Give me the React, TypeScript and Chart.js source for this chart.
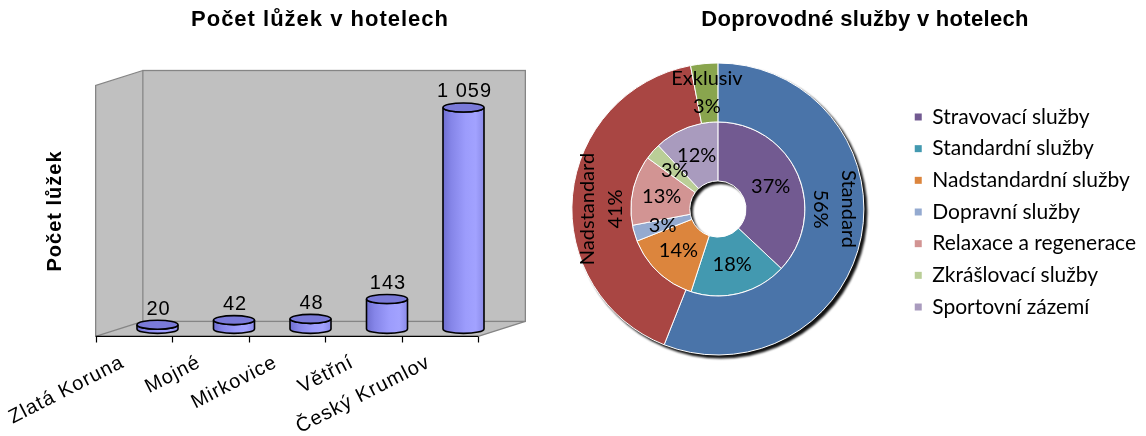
import React, { useEffect, useRef } from 'react';
import { Chart, registerables } from 'chart.js';

Chart.register(...registerables);

// ---------------- data ----------------
const bedTitle = 'Počet lůžek v hotelech';
const bedAxisTitle = 'Počet lůžek';
const bedCategories = ['Zlatá Koruna', 'Mojné', 'Mirkovice', 'Větřní', 'Český Krumlov'];
const bedCounts = [20, 42, 48, 143, 1059];
const bedAxisMax = 1200;

const serviceTitle = 'Doprovodné služby v hotelech';
const classLabels = ['Standard', 'Nadstandard', 'Exklusiv'];
const classShares = [56, 41, 3];
const serviceLabels = [
  'Stravovací služby',
  'Standardní služby',
  'Nadstandardní služby',
  'Dopravní služby',
  'Relaxace a regenerace',
  'Zkrášlovací služby',
  'Sportovní zázemí',
];
const serviceShares = [37, 18, 14, 3, 13, 3, 12];

// ---------------- style ----------------
const classColors = ['#4A74A9', '#A94643', '#89A54E'];
const serviceColors = ['#725A91', '#4399B0', '#DC853D', '#94AAD0', '#D29493', '#BACE97', '#A99BBE'];
const ARIAL = "'Liberation Sans', Arial, sans-serif";
const CALIBRI = "Lato, 'Open Sans', sans-serif";

const fmtCount = (v: number) =>
  v >= 1000 ? Math.floor(v / 1000) + ' ' + String(v % 1000).padStart(3, '0') : String(v);

// half of the 3D depth offset (mid plane -> back plane)
const DX = 23.6;
const DY = 7.5;

const frame3d = {
  id: 'frame3d',
  beforeDatasetsDraw(chart: any) {
    const { ctx, chartArea: a } = chart;
    const fL = a.left - DX, fR = a.right - DX, fT = a.top + DY, fB = a.bottom + DY;
    const bL = a.left + DX, bR = a.right + DX, bT = a.top - DY, bB = a.bottom - DY;
    ctx.save();
    ctx.fillStyle = '#C0C0C0';
    ctx.fillRect(bL, bT, bR - bL, bB - bT);
    ctx.beginPath();
    ctx.moveTo(fL, fT); ctx.lineTo(bL, bT); ctx.lineTo(bL, bB); ctx.lineTo(fL, fB); ctx.closePath();
    ctx.fill();
    ctx.beginPath();
    ctx.moveTo(fL, fB); ctx.lineTo(bL, bB); ctx.lineTo(bR, bB); ctx.lineTo(fR, fB); ctx.closePath();
    ctx.fill();
    ctx.strokeStyle = '#858585';
    ctx.lineWidth = 1.3;
    ctx.strokeRect(bL, bT, bR - bL, bB - bT);
    ctx.beginPath();
    ctx.moveTo(fL, fB); ctx.lineTo(fL, fT); ctx.lineTo(bL, bT);
    ctx.moveTo(fL, fB); ctx.lineTo(bL, bB);
    ctx.moveTo(fR, fB); ctx.lineTo(bR, bB);
    ctx.stroke();
    // front axis line + tick marks
    ctx.strokeStyle = '#000';
    ctx.lineWidth = 1.2;
    ctx.beginPath();
    ctx.moveTo(fL, fB); ctx.lineTo(fR, fB);
    const n = bedCategories.length;
    const step = a.width / n;
    for (let i = 0; i <= n; i++) {
      const x = Math.round(a.left + i * step - DX) + 0.5;
      ctx.moveTo(x, fB); ctx.lineTo(x, fB + 6);
    }
    ctx.stroke();
    ctx.restore();
  },
  afterDatasetsDraw(chart: any) {
    const { ctx } = chart;
    const meta = chart.getDatasetMeta(0);
    ctx.save();
    meta.data.forEach((el: any, i: number) => {
      const { x, y, base, width } = el.getProps(['x', 'y', 'base', 'width'], true);
      const rx = width / 2;
      const ry = 4.5;
      const l = x - rx, r = x + rx;
      const g = ctx.createLinearGradient(l, 0, r, 0);
      g.addColorStop(0, '#6F6FD0');
      g.addColorStop(0.2, '#8585E8');
      g.addColorStop(0.55, '#9C9CFC');
      g.addColorStop(0.8, '#A2A2FF');
      g.addColorStop(1, '#8A8AE8');
      ctx.lineWidth = 1.6;
      ctx.strokeStyle = '#000';
      ctx.fillStyle = g;
      ctx.beginPath();
      ctx.moveTo(l, y);
      ctx.lineTo(l, base);
      ctx.ellipse(x, base, rx, ry, 0, Math.PI, 0, true);
      ctx.lineTo(r, y);
      ctx.ellipse(x, y, rx, ry, 0, 0, Math.PI, false);
      ctx.closePath();
      ctx.fill();
      ctx.stroke();
      ctx.beginPath();
      ctx.ellipse(x, y, rx, ry, 0, 0, Math.PI * 2);
      ctx.fillStyle = '#7A7AD8';
      ctx.fill();
      ctx.stroke();
      // value label
      ctx.font = `20px ${ARIAL}`;
      ctx.letterSpacing = '1px';
      ctx.fillStyle = '#000';
      ctx.textAlign = 'center';
      ctx.textBaseline = 'alphabetic';
      ctx.fillText(fmtCount(bedCounts[i]), x + 1, y - 10);
    });
    ctx.restore();
  },
  afterDraw(chart: any) {
    const { ctx, chartArea: a, scales } = chart;
    const xs = scales.x;
    ctx.save();
    ctx.fillStyle = '#000';
    ctx.letterSpacing = '1px';
    // chart title
    ctx.font = `bold 22px ${ARIAL}`;
    ctx.textAlign = 'center';
    ctx.textBaseline = 'middle';
    ctx.fillText(bedTitle, 320, 20);
    // category labels
    ctx.font = `20px ${ARIAL}`;
    ctx.textAlign = 'right';
    ctx.textBaseline = 'middle';
    bedCategories.forEach((lab, i) => {
      const x = xs.getPixelForValue(i) - DX - 11;
      const y = a.bottom + DY + 25;
      ctx.save();
      ctx.translate(x, y);
      ctx.rotate((-27 * Math.PI) / 180);
      ctx.fillText(lab, 0, 0);
      ctx.restore();
    });
    // y axis title
    ctx.font = `bold 20px ${ARIAL}`;
    ctx.textAlign = 'center';
    ctx.save();
    ctx.translate(a.left - DX - 40, (a.top + a.bottom) / 2 + DY);
    ctx.rotate(-Math.PI / 2);
    ctx.fillText(bedAxisTitle, 0, 0);
    ctx.restore();
    ctx.restore();
  },
};

function BedsChart() {
  const ref = useRef<HTMLCanvasElement>(null);
  useEffect(() => {
    if (!ref.current) return;
    const chart = new Chart(ref.current, {
      type: 'bar',
      data: {
        labels: bedCategories,
        datasets: [
          {
            label: bedAxisTitle,
            data: bedCounts,
            backgroundColor: '#9999FF',
            borderWidth: 0,
            barPercentage: 0.536,
            categoryPercentage: 1,
          },
        ],
      },
      options: {
        responsive: false,
        animation: false,
        events: [],
        layout: { padding: { left: 119.25, right: 138.25, top: 78, bottom: 107.1 } },
        scales: {
          x: { display: false },
          y: { display: false, min: 0, max: bedAxisMax },
        },
        plugins: {
          legend: { display: false },
          tooltip: { enabled: false },
          title: { display: false },
        },
      } as any,
      plugins: [frame3d],
    });
    return () => chart.destroy();
  }, []);
  return (
    <canvas ref={ref} width={640} height={436} style={{ position: 'absolute', left: 0, top: 0 }} />
  );
}

const ringPlugin = {
  id: 'ringDecor',
  beforeDatasetsDraw(chart: any) {
    const { ctx } = chart;
    const outer = chart.getDatasetMeta(0).data[0];
    const inner = chart.getDatasetMeta(1).data[0];
    if (!outer || !inner) return;
    const x = outer.x + 3, y = outer.y + 3;
    ctx.save();
    ctx.filter = 'blur(0.8px)';
    ctx.fillStyle = '#111';
    ctx.beginPath();
    ctx.arc(x, y, outer.outerRadius + 0.5, 0, Math.PI * 2);
    ctx.moveTo(x + inner.innerRadius, y);
    ctx.arc(x, y, inner.innerRadius, 0, Math.PI * 2, true);
    ctx.fill('evenodd');
    ctx.restore();
  },
  afterDatasetsDraw(chart: any) {
    const { ctx } = chart;
    ctx.save();
    ctx.fillStyle = '#000';
    ctx.font = `20px ${CALIBRI}`;
    ctx.textAlign = 'center';
    ctx.textBaseline = 'middle';
    // inner ring: percentages
    chart.getDatasetMeta(1).data.forEach((el: any, i: number) => {
      const mid = (el.startAngle + el.endAngle) / 2;
      const r = (el.innerRadius + el.outerRadius) / 2;
      ctx.fillText(serviceShares[i] + '%', el.x + r * Math.cos(mid), el.y + r * Math.sin(mid));
    });
    // outer ring: name + percentage, oriented along the ring
    chart.getDatasetMeta(0).data.forEach((el: any, i: number) => {
      const span = el.endAngle - el.startAngle;
      let a = (el.startAngle + el.endAngle) / 2 + Math.PI / 2;
      a = ((a % (2 * Math.PI)) + 2 * Math.PI) % (2 * Math.PI);
      const rot = Math.round(a / (Math.PI / 2)) * (Math.PI / 2);
      const pa = span > Math.PI / 2 ? rot : a;
      const r = (el.innerRadius + el.outerRadius) / 2;
      const px = el.x + r * Math.sin(pa);
      const py = el.y - r * Math.cos(pa);
      ctx.save();
      ctx.translate(px, py);
      ctx.rotate(rot);
      ctx.fillText(classLabels[i], 0, -14);
      ctx.fillText(classShares[i] + '%', 0, 14);
      ctx.restore();
    });
    ctx.restore();
  },
  afterDraw(chart: any) {
    const { ctx } = chart;
    ctx.save();
    ctx.fillStyle = '#000';
    ctx.font = `bold 22px ${ARIAL}`;
    ctx.letterSpacing = '0.3px';
    ctx.textAlign = 'center';
    ctx.textBaseline = 'middle';
    ctx.fillText(serviceTitle, 345, 20);
    ctx.restore();
  },
};

const LEGEND_FONT = 21;
const LEGEND_PAD = 10.67;
const RIGHT_W = 626;
const LEGEND_LEFT = 384.3; // canvas x where the legend box starts

function ServicesChart() {
  const ref = useRef<HTMLCanvasElement>(null);
  useEffect(() => {
    if (!ref.current) return;
    const m = document.createElement('canvas').getContext('2d') as CanvasRenderingContext2D;
    m.font = `${LEGEND_FONT}px ${CALIBRI}`;
    const tw = Math.max(...serviceLabels.map((t) => m.measureText(t).width));
    const legendW = LEGEND_PAD + 7 + LEGEND_FONT / 2 + tw + 10;
    const padR = Math.max(0, RIGHT_W - LEGEND_LEFT - legendW);
    const chart = new Chart(ref.current, {
      type: 'doughnut',
      data: {
        labels: serviceLabels,
        datasets: [
          {
            label: 'Kategorie',
            data: classShares,
            backgroundColor: classColors,
            borderColor: '#ffffff',
            borderWidth: 1,
          },
          {
            label: 'Služby',
            data: serviceShares,
            backgroundColor: serviceColors,
            borderColor: '#ffffff',
            borderWidth: 1,
          },
        ],
      },
      options: {
        responsive: false,
        animation: false,
        events: [],
        radius: 146,
        cutout: 28,
        layout: { padding: { left: 11.7, right: padR, top: 63, bottom: 81 } },
        plugins: {
          tooltip: { enabled: false },
          title: { display: false },
          legend: {
            position: 'right',
            title: { display: true, text: '', padding: 0, font: { size: 5 } },
            labels: {
              boxWidth: 7,
              boxHeight: 7,
              padding: LEGEND_PAD,
              color: '#000',
              font: { family: CALIBRI, size: LEGEND_FONT },
              generateLabels: () =>
                serviceLabels.map((t, i) => ({
                  text: t,
                  fillStyle: serviceColors[i],
                  strokeStyle: serviceColors[i],
                  fontColor: '#000',
                  lineWidth: 0,
                  hidden: false,
                  index: i,
                  datasetIndex: 1,
                })),
            },
          },
        },
      } as any,
      plugins: [ringPlugin],
    });
    return () => chart.destroy();
  }, []);
  return (
    <canvas ref={ref} width={RIGHT_W} height={436} style={{ position: 'absolute', left: 520, top: 0 }} />
  );
}

export default function App() {
  return (
    <div
      style={{
        position: 'absolute',
        left: 0,
        top: 0,
        width: 1146,
        height: 436,
        background: '#fff',
        overflow: 'hidden',
      }}
    >
      <BedsChart />
      <ServicesChart />
    </div>
  );
}
